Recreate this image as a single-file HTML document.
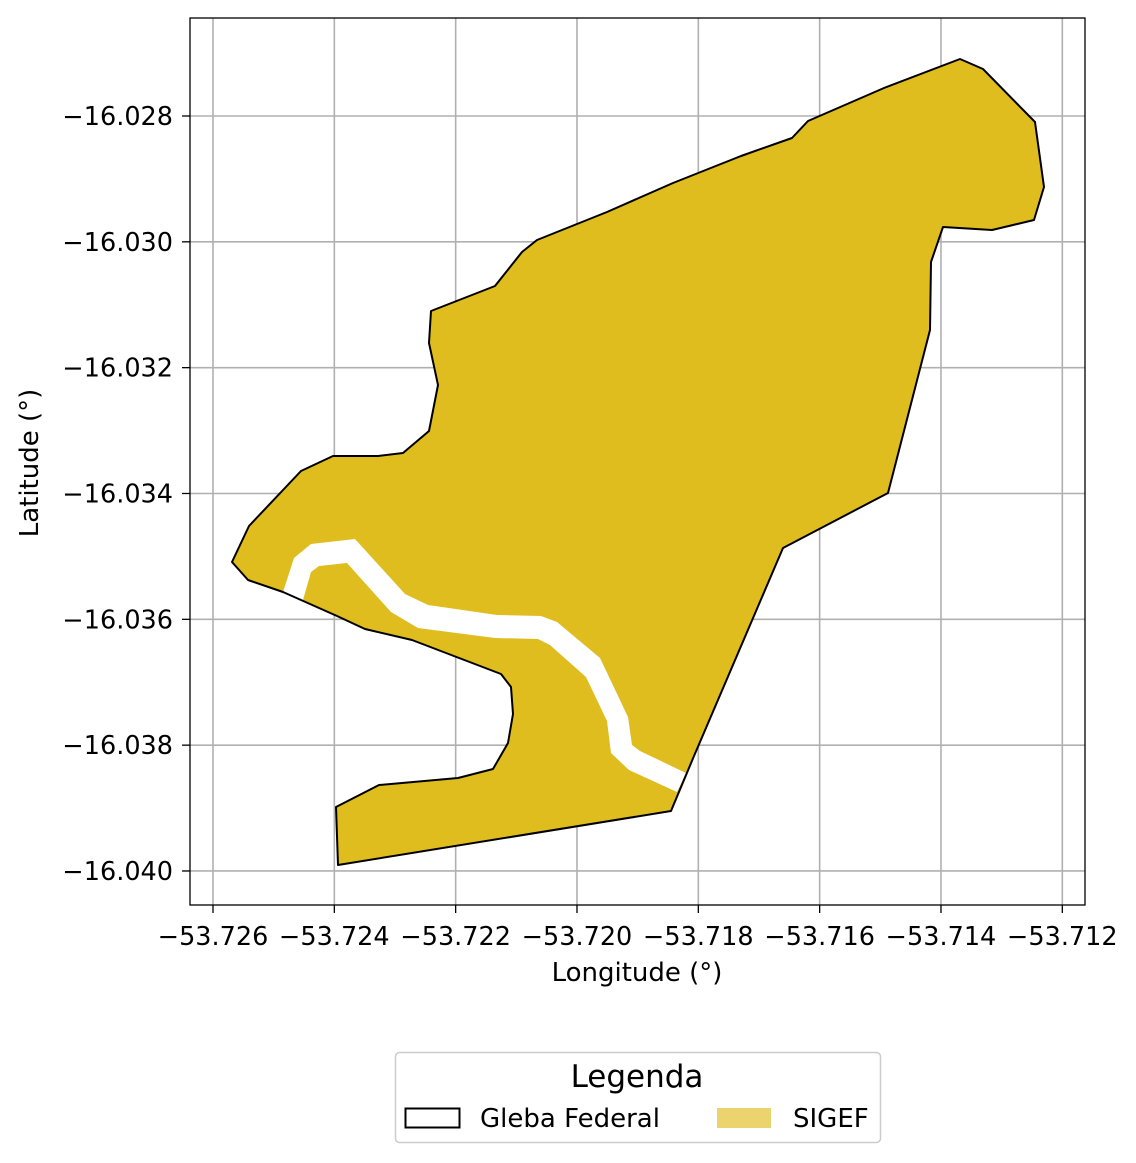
<!DOCTYPE html>
<html><head><meta charset="utf-8"><style>
body{margin:0;background:#fff;}
svg{display:block;font-family:"DejaVu Sans","Liberation Sans",sans-serif;}
</style></head><body>
<svg id="chart" width="1136" height="1163" xmlns="http://www.w3.org/2000/svg">
<g id="grid"></g>
<g id="marks"></g>
<rect x="190" y="18" width="895" height="887" fill="none" stroke="#000" stroke-width="1.3"/>
<g id="ticks"></g>
<text x="637" y="981" font-size="26" text-anchor="middle">Longitude (°)</text>
<text x="38" y="463" font-size="26" text-anchor="middle" transform="rotate(-90 38 463)">Latitude (°)</text>
<g>
<rect x="395.5" y="1052.5" width="485" height="90" rx="4" fill="#fff" stroke="#ccc" stroke-width="1.5"/>
<text x="637" y="1087" font-size="31" text-anchor="middle">Legenda</text>
<rect x="405.5" y="1108.5" width="54" height="19" fill="none" stroke="#000" stroke-width="2"/>
<text x="480" y="1127" font-size="26">Gleba Federal</text>
<rect x="717" y="1108" width="54" height="20" fill="#ebd46e"/>
<text x="793" y="1127" font-size="26">SIGEF</text>
</g>
</svg>
<script>
const xTicks=[-53.726,-53.724,-53.722,-53.720,-53.718,-53.716,-53.714,-53.712];
const yTicks=[-16.028,-16.030,-16.032,-16.034,-16.036,-16.038,-16.040];
const glebaLon=[-53.723939,-53.723972,-53.723264,-53.721961,-53.721384,-53.721137,-53.721055,-53.721088,-53.721253,-53.722720,-53.723494,-53.723956,-53.724846,-53.725423,-53.725687,-53.725407,-53.724549,-53.724022,-53.723280,-53.722868,-53.722439,-53.722291,-53.722439,-53.722406,-53.721352,-53.720906,-53.720659,-53.719505,-53.718417,-53.717296,-53.716456,-53.716192,-53.714939,-53.713686,-53.713307,-53.712450,-53.712302,-53.712467,-53.713159,-53.713967,-53.714164,-53.714181,-53.714873,-53.716604,-53.718071,-53.718450];
const glebaLat=[-16.039905,-16.038983,-16.038634,-16.038522,-16.038379,-16.037966,-16.037505,-16.037076,-16.036869,-16.036329,-16.036154,-16.035948,-16.035566,-16.035375,-16.035089,-16.034517,-16.033643,-16.033404,-16.033404,-16.033357,-16.033007,-16.032276,-16.031608,-16.031100,-16.030702,-16.030162,-16.029971,-16.029526,-16.029065,-16.028636,-16.028350,-16.028079,-16.027555,-16.027094,-16.027253,-16.028095,-16.029129,-16.029653,-16.029812,-16.029764,-16.030321,-16.031402,-16.033992,-16.034867,-16.038173,-16.039047];
const riverLon=[-53.724846,-53.724665,-53.724385,-53.723659,-53.722835,-53.722456,-53.721319,-53.720593,-53.720330,-53.719621,-53.719159,-53.719093,-53.718961,-53.718203,-53.718351,-53.719143,-53.719439,-53.719505,-53.719851,-53.720445,-53.720643,-53.721352,-53.722621,-53.723066,-53.723791,-53.724253,-53.724385,-53.724516];
const riverLat=[-16.035566,-16.035026,-16.034803,-16.034724,-16.035598,-16.035773,-16.035932,-16.035948,-16.036043,-16.036615,-16.037553,-16.037998,-16.038093,-16.038443,-16.038745,-16.038395,-16.038125,-16.037616,-16.036917,-16.036408,-16.036313,-16.036297,-16.036138,-16.035884,-16.035105,-16.035153,-16.035248,-16.035693];
const X=v=>213+(v+53.726)/0.002*121.33;
const Y=v=>116+(-16.028-v)/0.002*125.83;
const NS='http://www.w3.org/2000/svg';
const grid=document.getElementById('grid'),ticks=document.getElementById('ticks'),marks=document.getElementById('marks');
function mk(tag,attrs,parent){const e=document.createElementNS(NS,tag);for(const k in attrs)e.setAttribute(k,attrs[k]);parent.appendChild(e);return e;}
xTicks.forEach(t=>{const x=X(t);
 const g=mk('line',{x1:x,x2:x,y1:18,y2:905,stroke:'#b0b0b0','stroke-width':1.6},grid);
 
 
 const tk=mk('line',{x1:x,x2:x,y1:905,y2:913,stroke:'#000','stroke-width':1.3},ticks);
 
 
 const tx=mk('text',{x:x,y:945,'font-size':25.5,'text-anchor':'middle'},ticks);
 tx.textContent='\u2212'+Math.abs(t).toFixed(3);
 
 
});
yTicks.forEach(t=>{const y=Y(t);
 const g=mk('line',{x1:190,x2:1085,y1:y,y2:y,stroke:'#b0b0b0','stroke-width':1.6},grid);
 
 
 const tk=mk('line',{x1:182,x2:190,y1:y,y2:y,stroke:'#000','stroke-width':1.3},ticks);
 
 
 const tx=mk('text',{x:173,y:y+9,'font-size':25.5,'text-anchor':'end'},ticks);
 tx.textContent='\u2212'+Math.abs(t).toFixed(3);
 
 
});
const pts=(lo,la)=>lo.map((v,i)=>X(v).toFixed(1)+','+Y(la[i]).toFixed(1)).join(' ');
const fill=mk('polygon',{points:pts(glebaLon,glebaLat),fill:'#dfbd1f',stroke:'none'},marks);


const river=mk('polygon',{points:pts(riverLon,riverLat),fill:'#fff',stroke:'none'},marks);


const outline=mk('polygon',{points:pts(glebaLon,glebaLat),fill:'none',stroke:'#000','stroke-width':2,'stroke-linejoin':'round'},marks);


</script>
</body></html>
